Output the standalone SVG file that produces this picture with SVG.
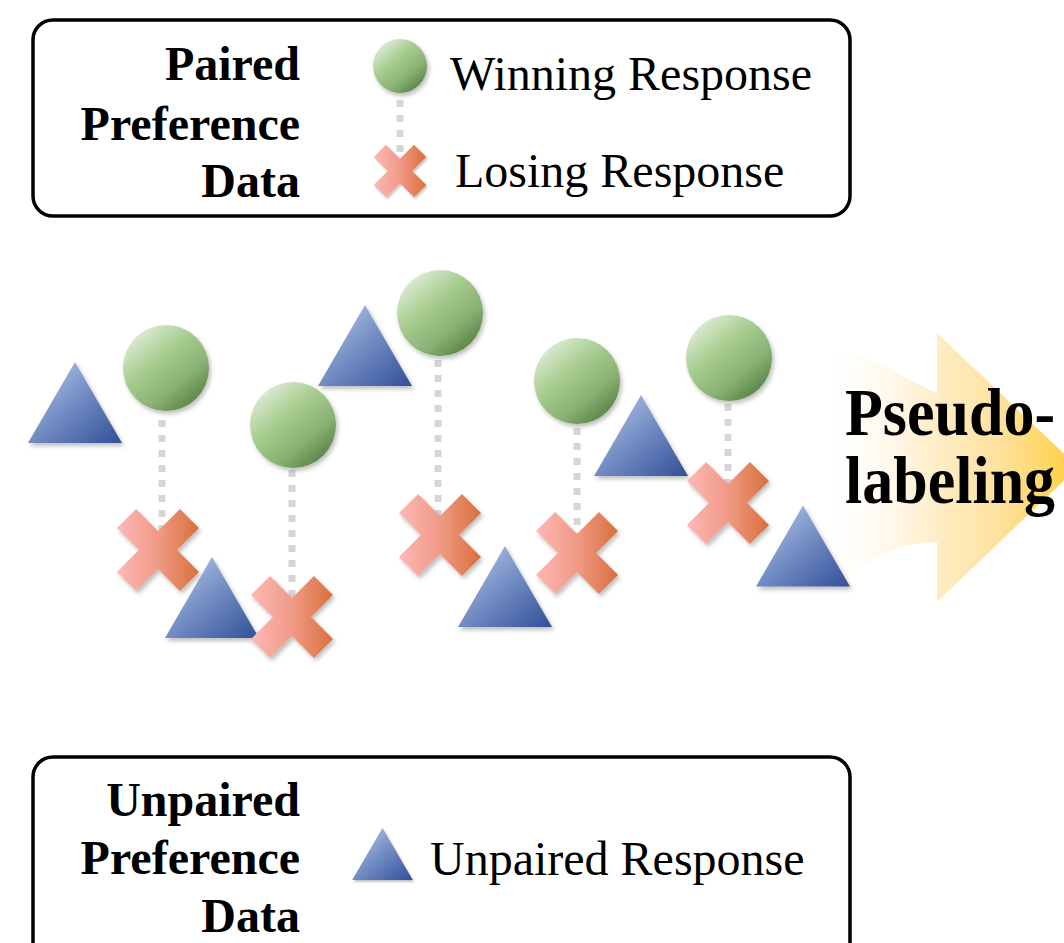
<svg xmlns="http://www.w3.org/2000/svg" xmlns:xlink="http://www.w3.org/1999/xlink" width="1064" height="943" viewBox="0 0 1064 943">
<style>
.box{fill:#fff;stroke:#000;stroke-width:3.5}
.lbl{font-family:"Liberation Serif","Times New Roman",serif;font-weight:bold;font-size:48px;fill:#000;text-anchor:end}
.leg{font-family:"Liberation Serif","Times New Roman",serif;font-size:48px;fill:#000}
.big{font-family:"Liberation Serif","Times New Roman",serif;font-weight:bold;font-size:62px;fill:#000}
.dot{stroke:#d6d6d6;stroke-width:7;stroke-dasharray:7 8;fill:none}
.tri{fill:url(#gTri);filter:url(#sh)}
.cir{fill:url(#gCir);filter:url(#sh)}
.crs{fill:url(#gX);filter:url(#sh)}
</style>
<defs>
<linearGradient id="gTri" x1="0" y1="0" x2="1" y2="1">
<stop offset="0" stop-color="#c0d0ec"/>
<stop offset="0.5" stop-color="#728cc4"/>
<stop offset="1" stop-color="#324f97"/>
</linearGradient>
<linearGradient id="gCir" x1="0.1" y1="0.05" x2="0.85" y2="0.95">
<stop offset="0" stop-color="#e6f1df"/>
<stop offset="0.4" stop-color="#a6cc8e"/>
<stop offset="0.7" stop-color="#8ab274"/>
<stop offset="1" stop-color="#557f40"/>
</linearGradient>
<linearGradient id="gX" x1="0" y1="0" x2="1" y2="0">
<stop offset="0" stop-color="#fdb8b6"/>
<stop offset="0.5" stop-color="#f09a86"/>
<stop offset="1" stop-color="#d86f3a"/>
</linearGradient>
<linearGradient id="gArrow" gradientUnits="userSpaceOnUse" x1="820" y1="0" x2="1064" y2="0">
<stop offset="0" stop-color="#ffffff" stop-opacity="0"/>
<stop offset="0.3" stop-color="#fff7e8"/>
<stop offset="0.5" stop-color="#feecc2"/>
<stop offset="0.75" stop-color="#fee19a"/>
<stop offset="1" stop-color="#ffd24e"/>
</linearGradient>
<filter id="sh" x="-20%" y="-20%" width="150%" height="150%">
<feDropShadow dx="2" dy="3" stdDeviation="2" flood-color="#000" flood-opacity="0.25"/>
</filter>
<path id="xs" d="M21.92,-41.01 L41.01,-21.92 L19.09,0 L41.01,21.92 L21.92,41.01 L0,19.09 L-21.92,41.01 L-41.01,21.92 L-19.09,0 L-41.01,-21.92 L-21.92,-41.01 L0,-19.09 Z"/>
<path id="ts" d="M0,-40.5 L47,40.5 L-47,40.5 Z"/>
</defs>

<g id="arrow">
<path d="M820,347 C870,352 905,380 937,393 L937,333 L1078,467 L937,602 L937,542 C900,542 868,556 832,592 Z" fill="url(#gArrow)"/>
<text class="big" transform="translate(845,435) scale(1,1.1)" x="0" y="0">Pseudo-</text>
<text class="big" transform="translate(845,503) scale(1,1.1)" x="0" y="0">labeling</text>
</g>

<g id="legend-paired">
<rect class="box" x="33" y="20" width="817" height="196" rx="20"/>
<text class="lbl" x="300" y="80">Paired</text>
<text class="lbl" x="300" y="140">Preference</text>
<text class="lbl" x="300" y="197">Data</text>
<line class="dot" x1="400" y1="100" x2="400" y2="158" stroke-width="6" stroke-dasharray="6 7"/>
<circle class="cir" cx="400" cy="66" r="27"/>
<use href="#xs" class="crs" transform="translate(400,171) scale(0.64)"/>
<text class="leg" x="450" y="90">Winning Response</text>
<text class="leg" x="455" y="187">Losing Response</text>
</g>

<g id="connectors">
<line class="dot" x1="162" y1="420" x2="162" y2="530"/>
<line class="dot" x1="292" y1="470" x2="292" y2="600"/>
<line class="dot" x1="438" y1="360" x2="438" y2="520"/>
<line class="dot" x1="577" y1="428" x2="577" y2="535"/>
<line class="dot" x1="728" y1="404" x2="728" y2="485"/>
</g>

<g id="t1"><use href="#ts" class="tri" transform="translate(75,402.5)"/></g>
<g id="c1"><circle class="cir" cx="166" cy="368" r="43"/></g>
<g id="x1"><use href="#xs" class="crs" transform="translate(158,550)"/></g>
<g id="t3"><use href="#ts" class="tri" transform="translate(212,597.5)"/></g>
<g id="c2"><circle class="cir" cx="293" cy="425" r="43"/></g>
<g id="x2"><use href="#xs" class="crs" transform="translate(292,617)"/></g>
<g id="t2"><use href="#ts" class="tri" transform="translate(365,345.5)"/></g>
<g id="c3"><circle class="cir" cx="440" cy="313" r="43"/></g>
<g id="x3"><use href="#xs" class="crs" transform="translate(440,535)"/></g>
<g id="t5"><use href="#ts" class="tri" transform="translate(505,586.5)"/></g>
<g id="c4"><circle class="cir" cx="577" cy="381" r="43"/></g>
<g id="x4"><use href="#xs" class="crs" transform="translate(577,553)"/></g>
<g id="t4"><use href="#ts" class="tri" transform="translate(641,435.5)"/></g>
<g id="c5"><circle class="cir" cx="729" cy="358" r="43"/></g>
<g id="x5"><use href="#xs" class="crs" transform="translate(728,503)"/></g>
<g id="t6"><use href="#ts" class="tri" transform="translate(803,546)"/></g>

<g id="legend-unpaired">
<rect class="box" x="33" y="757" width="817" height="210" rx="20"/>
<text class="lbl" x="300" y="816">Unpaired</text>
<text class="lbl" x="300" y="874">Preference</text>
<text class="lbl" x="300" y="932">Data</text>
<use href="#ts" class="tri" transform="translate(382.5,854) scale(0.645)"/>
<text class="leg" x="430" y="875">Unpaired Response</text>
</g>
</svg>
